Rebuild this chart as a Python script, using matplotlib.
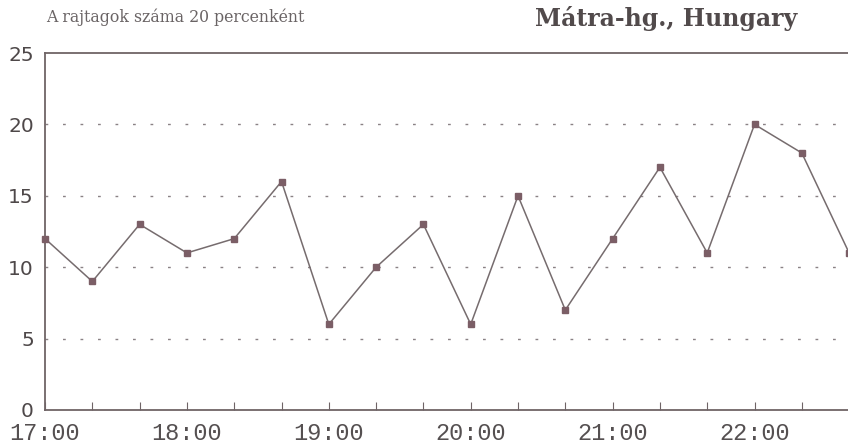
import matplotlib
matplotlib.use('Agg')
import matplotlib.pyplot as plt
from matplotlib.ticker import MultipleLocator

# minutes after 17:00, one sample every 20 minutes
minutes = [0, 20, 40, 60, 80, 100, 120, 140, 160, 180, 200, 220, 240, 260, 280, 300, 320, 340]
starters = [12, 9, 13, 11, 12, 16, 6, 10, 13, 6, 15, 7, 12, 17, 11, 20, 18, 11]
hour_ticks = [0, 60, 120, 180, 240, 300]
hour_labels = ['17:00', '18:00', '19:00', '20:00', '21:00', '22:00']
y_ticks = [0, 5, 10, 15, 20, 25]

line_color = '#6f6466'
text_color = '#4e4849'

fig = plt.figure(figsize=(8.48, 4.44), dpi=100)
ax = fig.add_axes([0.0531, 0.0766, 0.951, 0.804])

for y in y_ticks[1:-1]:
    ax.axhline(y, color='#8a8285', linewidth=1.0, linestyle=(0, (2, 10.6)), zorder=1)

ax.plot(minutes, starters, color='#766c6e', linewidth=1.1, marker='s', markersize=5,
        markerfacecolor='#7b5e66', markeredgecolor='#7b5e66', zorder=3, clip_on=False)

ax.set_xlim(0, 341)
ax.set_ylim(0, 25)
ax.set_xticks(hour_ticks)
ax.set_xticklabels(hour_labels, family='Liberation Mono', fontsize=17, color='#555051')
ax.xaxis.set_minor_locator(MultipleLocator(20))
ax.set_yticks(y_ticks)
ax.set_yticklabels([str(v) for v in y_ticks], family='DejaVu Sans', fontsize=14.5, color=text_color)

ax.tick_params(axis='x', which='both', direction='in', length=6, width=0.8, color=line_color, pad=9)
ax.tick_params(axis='y', length=0, pad=8)

for side in ['left', 'bottom', 'top']:
    ax.spines[side].set_color(line_color)
    ax.spines[side].set_linewidth(1.3)
ax.spines['right'].set_visible(False)

fig.text(0.054, 0.962, 'A rajtagok száma 20 percenként', family='DejaVu Serif', fontsize=11.3,
         color='#6a6465', va='center', ha='left')
fig.text(0.631, 0.958, 'Mátra-hg., Hungary', family='DejaVu Serif', fontsize=17, fontweight='bold',
         color='#514a4b', va='center', ha='left')

fig.savefig('out.png', dpi=100)
